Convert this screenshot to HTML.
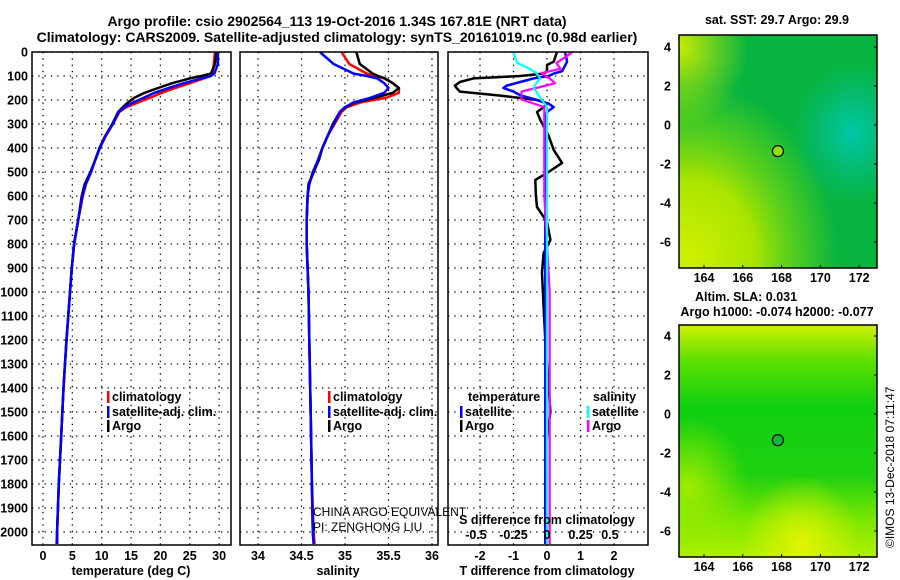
<!DOCTYPE html>
<html><head><meta charset="utf-8">
<style>
body{margin:0;background:#fff;}
svg{display:block;font-family:"Liberation Sans",Arial,sans-serif;}
.b{font-weight:bold;font-size:12.5px;}
</style></head>
<body>
<svg id="fig" width="900" height="580" viewBox="0 0 900 580">
<defs>
<radialGradient id="g1a" cx="0.88" cy="0.42" r="0.3"><stop offset="0" stop-color="#00c8a8"/><stop offset="1" stop-color="#00c0a0" stop-opacity="0"/></radialGradient>
<radialGradient id="g1b" cx="0.05" cy="0.95" r="0.75"><stop offset="0" stop-color="#d0f000"/><stop offset="0.45" stop-color="#a8e400"/><stop offset="0.75" stop-color="#70d810" stop-opacity="0.6"/><stop offset="1" stop-color="#70d810" stop-opacity="0"/></radialGradient>
<radialGradient id="g1c" cx="0.0" cy="0.05" r="0.35"><stop offset="0" stop-color="#c8ec00"/><stop offset="1" stop-color="#c8ec00" stop-opacity="0"/></radialGradient>
<linearGradient id="g2a" x1="0" y1="0" x2="0" y2="1"><stop offset="0" stop-color="#d0f000"/><stop offset="0.15" stop-color="#60e000"/><stop offset="0.35" stop-color="#10d010"/><stop offset="0.65" stop-color="#20d010"/><stop offset="0.85" stop-color="#80e800"/><stop offset="1" stop-color="#b0f000"/></linearGradient>
<radialGradient id="g2b" cx="0.62" cy="0.95" r="0.3"><stop offset="0" stop-color="#e0f400"/><stop offset="1" stop-color="#e0f400" stop-opacity="0"/></radialGradient>
<radialGradient id="g2c" cx="0.05" cy="0.7" r="0.3"><stop offset="0" stop-color="#a0ec00"/><stop offset="1" stop-color="#a0ec00" stop-opacity="0"/></radialGradient>
</defs>
<g id="root"></g>
</svg>
<script>
// ---- data ----
var depthTicks=[0,100,200,300,400,500,600,700,800,900,1000,1100,1200,1300,1400,1500,1600,1700,1800,1900,2000];
var tempTicks=[0,5,10,15,20,25,30];
var salTicks=[34,34.5,35,35.5,36];
var salTickLabels=["34","34.5","35","35.5","36"];
var tdTicks=[-2,-1,0,1,2];
var sdTicks=[-0.5,-0.25,0,0.25,0.5];
var sdTickLabels=["-0.5","-0.25","0","0.25","0.5"];
var lonTicks=[164,166,168,170,172];
var latTicks=[4,2,0,-2,-4,-6];

var depths=[0,50,90,100,110,130,150,170,190,210,230,250,300,350,400,450,500,550,600,700,800,900,1000,1200,1400,1600,1800,2000,2050];
var tempArgo=[29.5,29.3,28.6,27.0,25.0,22.0,19.6,17.3,15.6,14.5,13.6,12.8,11.8,10.6,9.6,8.9,8.1,7.1,6.6,6.0,5.3,4.9,4.6,4.0,3.5,3.1,2.7,2.4,2.4];
var tempClim=[29.3,29.1,28.9,28.5,27.4,25.0,22.5,20.2,18.3,16.2,14.2,13.0,11.9,10.7,9.7,8.9,8.2,7.3,6.8,6.0,5.3,4.9,4.6,4.0,3.5,3.1,2.7,2.4,2.3];
var tempSat=[29.8,29.8,29.2,28.6,27.0,24.0,21.4,19.0,17.2,15.4,13.9,12.9,11.9,10.6,9.7,8.9,8.2,7.3,6.7,6.0,5.3,4.9,4.6,4.0,3.5,3.1,2.7,2.4,2.4];
var salArgo=[35.13,35.17,35.32,35.38,35.46,35.55,35.62,35.55,35.35,35.12,35.0,34.94,34.86,34.80,34.74,34.70,34.64,34.58,34.57,34.56,34.56,34.57,34.58,34.59,34.60,34.61,34.62,34.63,34.64];
var salClim=[34.96,35.05,35.25,35.35,35.45,35.55,35.62,35.62,35.48,35.18,35.02,34.96,34.88,34.80,34.74,34.69,34.64,34.59,34.57,34.56,34.56,34.57,34.58,34.59,34.60,34.61,34.62,34.64,34.65];
var salSat=[34.71,34.87,35.1,35.25,35.37,35.45,35.50,35.45,35.30,35.10,35.0,34.94,34.87,34.80,34.74,34.69,34.63,34.59,34.57,34.56,34.56,34.57,34.58,34.59,34.60,34.61,34.62,34.63,34.64];
var tdDepths=[0,40,54,80,90,100,110,125,140,150,165,180,200,215,230,250,283,350,408,462,504,533,600,646,708,783,837,921,1062,1200,1400,1500,1600,1800,1900,2050];
var tdArgo=[0.3,0.2,0,0,-0.1,-0.8,-2.2,-2.6,-2.75,-2.7,-2.6,-1.5,-0.3,0,-0.1,-0.3,-0.2,0.05,0.2,0.45,0,-0.35,-0.33,-0.3,0,0.1,-0.1,-0.15,-0.1,-0.05,0.05,0.1,0,-0.05,-0.05,-0.05];
var tdSat=[0.54,0.6,0.55,0.45,0.2,0.05,-0.4,-0.8,-1.2,-1.3,-1.0,-0.8,-0.3,0.05,0.2,0,-0.05,-0.05,-0.05,-0.05,-0.05,-0.05,-0.05,-0.05,-0.05,-0.05,-0.05,-0.05,-0.05,-0.05,-0.05,-0.05,-0.05,-0.05,-0.05,-0.05];
var sdDepths=[0,20,46,70,88,110,130,150,165,198,229,300,600,1000,1500,2050];
var sdArgo=[0.19,0.14,0.07,0.1,-0.04,0.02,0.06,-0.08,-0.19,-0.19,-0.02,-0.02,-0.02,0.02,0.02,0.02];
var sdSat=[-0.25,-0.24,-0.22,-0.13,-0.08,-0.05,-0.08,-0.1,-0.08,-0.04,0,0,0,0,0,0];

// ---- helpers ----
var NS="http://www.w3.org/2000/svg";
var root=document.getElementById('root');
function mk(tag,attrs,parent){var e=document.createElementNS(NS,tag);for(var k in attrs)e.setAttribute(k,attrs[k]);(parent||root).appendChild(e);return e;}
function txt(x,y,s,anchor,cls,parent){var t=mk('text',{x:x,y:y,'text-anchor':anchor||'middle','class':cls||'b'},parent);t.textContent=s;return t;}
var y0=52,yPer=0.24;
function yD(d){return y0+d*yPer;}
var xT=function(v){return 43+5.87*v;};
var xS=function(v){return 258+87*(v-34);};
var xTD=function(v){return 547+33.5*v;};
var xSD=function(v){return 547+134*v;};
var panels=[{x0:32,x1:231,name:'temperature-panel'},{x0:240,x1:438,name:'salinity-panel'},{x0:448,x1:648,name:'difference-panel'}];
var yTop=52,yBot=545;

panels.forEach(function(p,i){
  var g=mk('g',{});
  
  
  p.g=g;
  depthTicks.forEach(function(d){
    var l=mk('line',{x1:p.x0,x2:p.x1,y1:yD(d),y2:yD(d),stroke:'#000','stroke-width':1.3,'stroke-dasharray':'1.3 5'},g);
    
    
  });
});
function vgrid(p,ticks,fx){ticks.forEach(function(t){var l=mk('line',{x1:fx(t),x2:fx(t),y1:yTop,y2:yBot,stroke:'#000','stroke-width':1.3,'stroke-dasharray':'1.3 5'},p.g);
  
  });}
vgrid(panels[0],tempTicks,xT);
vgrid(panels[1],salTicks,xS);
vgrid(panels[2],tdTicks,xTD);

depthTicks.forEach(function(d){var t=txt(28,yD(d)+4.5,String(d),'end');
  
  });

function line(p,ds,vs,fx,color,w,name){
  var pts=ds.map(function(d,i){return fx(vs[i]).toFixed(1)+','+yD(d).toFixed(1);}).join(' ');
  var pl=mk('polyline',{points:pts,fill:'none',stroke:color,'stroke-width':w,'stroke-linejoin':'round'},p.g);
  
  
}
line(panels[0],depths,tempClim,xT,'#f00',2.5,'temperature-climatology-line');
line(panels[0],depths,tempArgo,xT,'#000',2.5,'temperature-argo-line');
line(panels[0],depths,tempSat,xT,'#00f',2.5,'temperature-satellite-line');
line(panels[1],depths,salClim,xS,'#f00',2.5,'salinity-climatology-line');
line(panels[1],depths,salArgo,xS,'#000',2.5,'salinity-argo-line');
line(panels[1],depths,salSat,xS,'#00f',2.5,'salinity-satellite-line');
line(panels[2],tdDepths,tdArgo,xTD,'#000',2.5,'tdiff-argo-line');
line(panels[2],tdDepths,tdSat,xTD,'#00f',2.5,'tdiff-satellite-line');
line(panels[2],sdDepths,sdArgo,xSD,'#f0f',2.2,'sdiff-argo-line');
line(panels[2],sdDepths,sdSat,xSD,'#0ff',2.2,'sdiff-satellite-line');

panels.forEach(function(p){var r=mk('rect',{x:p.x0,y:yTop,width:p.x1-p.x0,height:yBot-yTop,fill:'none',stroke:'#000','stroke-width':1.5},p.g);
  
  });

tempTicks.forEach(function(t){var e=txt(xT(t),560,String(t));
  
  });
salTicks.forEach(function(t,i){var e=txt(xS(t),560,salTickLabels[i]);
  
  });
tdTicks.forEach(function(t){var e=txt(xTD(t),560,String(t));
  
  });
sdTicks.forEach(function(t,i){var e=txt(xSD(t)+(i==0?-4:(i==4?-4:0)),539,sdTickLabels[i]);
  
  });

function leg(x,y,color,label,name){var r=mk('rect',{x:x,y:y-10,width:2.5,height:12,fill:color});
  
  
  var t=txt(x+5,y,label,'start');
  
  }
leg(107,401,'#f00','climatology','legend-climatology');
leg(107,416,'#00f','satellite-adj. clim.','legend-satellite');
leg(107,430,'#000','Argo','legend-argo');
leg(328,401,'#f00','climatology','legend2-climatology');
leg(328,416,'#00f','satellite-adj. clim.','legend2-satellite');
leg(328,430,'#000','Argo','legend2-argo');
var tt=txt(468,401,'temperature','start');
leg(460,416,'#00f','satellite','legend-tdiff-satellite');
leg(460,430,'#000','Argo','legend-tdiff-argo');
var st=txt(593,401,'salinity','start');
leg(587,416,'#0ff','satellite','legend-sdiff-satellite');
leg(587,430,'#f0f','Argo','legend-sdiff-argo');
</script>
<script>
var fig=document.getElementById('fig');
function T(x,y,s,opts,name){var t=document.createElementNS("http://www.w3.org/2000/svg",'text');t.setAttribute('x',x);t.setAttribute('y',y);
  for(var k in opts)t.setAttribute(k,opts[k]);t.textContent=s;fig.appendChild(t);
  
  return t;}
var B={'font-weight':'bold','font-size':'14px','text-anchor':'middle'};
T(337,26,'Argo profile: csio 2902564_113 19-Oct-2016 1.34S 167.81E (NRT data)',B,'title-line-1');
T(337,42,'Climatology: CARS2009. Satellite-adjusted climatology: synTS_20161019.nc (0.98d earlier)',B,'title-line-2');
var A={'font-weight':'bold','font-size':'12.5px','text-anchor':'middle'};
T(131,575,'temperature (deg C)',A,'temperature-axis-title');
T(338,575,'salinity',A,'salinity-axis-title');
T(547,575,'T difference from climatology',A,'tdiff-axis-title');
T(547,524,'S difference from climatology',A,'sdiff-axis-title');
var L={'font-size':'12px','text-anchor':'start'};
T(313,516,'CHINA ARGO EQUIVALENT',L,'float-program-label');
T(313,531,'PI: ZENGHONG LIU',L,'float-pi-label');
T(777,24,'sat. SST: 29.7 Argo: 29.9',A,'sst-map-title');
T(746,301,'Altim. SLA: 0.031',A,'sla-map-title');
T(777,316,'Argo h1000: -0.074 h2000: -0.077',A,'height-map-title');
T(894,548,'©IMOS 13-Dec-2018 07:11:47',{'font-size':'12px','text-anchor':'start','transform':'rotate(-90 894 548)'},'imos-credit');
</script>
<script>
var mapLonTicks=[164,166,168,170,172];
var mapLatTicks=[4,2,0,-2,-4,-6];
var floatLon=167.81, floatLat=-1.34;
var svgNS="http://www.w3.org/2000/svg";
var f2=document.getElementById('fig');
function E(tag,a){var e=document.createElementNS(svgNS,tag);for(var k in a)e.setAttribute(k,a[k]);f2.appendChild(e);return e;}
var maps=[{y0:35,y1:268,lat0:125,base:'#08b440',fills:['url(#g1b)','url(#g1a)','url(#g1c)'],dot:'#90e000',name:'sst-map'},
          {y0:325,y1:557,lat0:414,base:'#20d010',fills:['url(#g2a)','url(#g2b)','url(#g2c)'],dot:'#10b840',name:'sla-map'}];
function mx(lon){return 704+19.4*(lon-164);}
maps.forEach(function(m){
  function my(lat){return m.lat0-19.5*lat;}
  var bg=E('rect',{x:679,y:m.y0,width:198,height:m.y1-m.y0,fill:m.base});
  
  
  m.fills.forEach(function(f){var r=E('rect',{x:679,y:m.y0,width:198,height:m.y1-m.y0,fill:f});
    
    });
  var fr=E('rect',{x:679,y:m.y0,width:198,height:m.y1-m.y0,fill:'none',stroke:'#000','stroke-width':1.5});
  
  
  var ci=E('circle',{cx:mx(floatLon),cy:my(floatLat),r:5.5,fill:m.dot,stroke:'#000','stroke-width':1.2});
  
  
  mapLatTicks.forEach(function(t){var e=E('text',{x:671,y:my(t)+4.5,'text-anchor':'end','font-weight':'bold','font-size':'12.5px'});e.textContent=String(t);
    
    
    E('line',{x1:874,x2:877,y1:my(t),y2:my(t),stroke:'#000'});});
  mapLonTicks.forEach(function(t){var e=E('text',{x:mx(t),y:m.y1+14,'text-anchor':'middle','font-weight':'bold','font-size':'12.5px'});e.textContent=String(t);
    
    
    E('line',{x1:mx(t),x2:mx(t),y1:m.y1,y2:m.y1-3,stroke:'#000'});});
});
</script>
</body></html>
